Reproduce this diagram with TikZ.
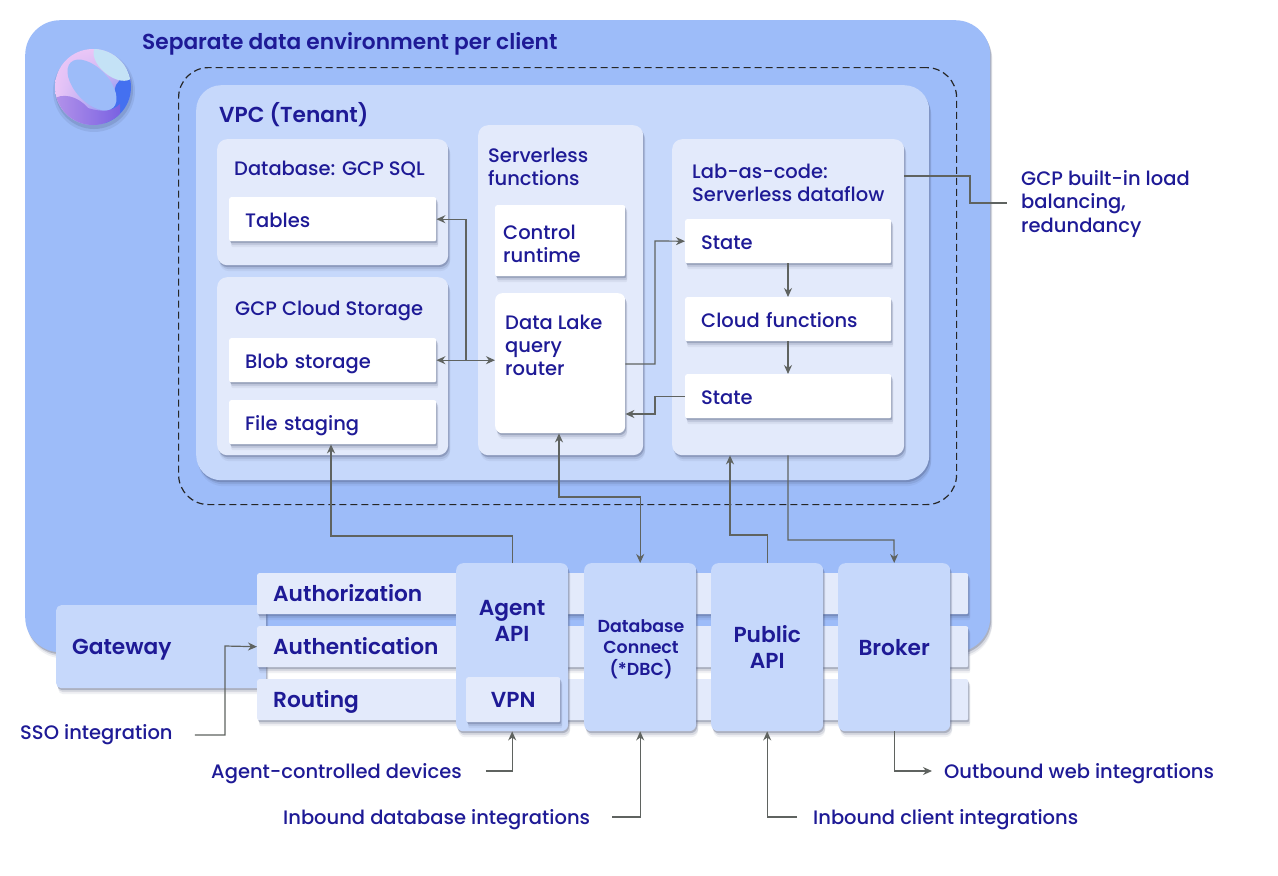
\documentclass[tikz,border=0pt]{standalone}
\usepackage{fontspec}
\setmainfont{Poppins}[BoldFont={Poppins SemiBold}]
\newfontfamily\medfont{Poppins Medium}
\usetikzlibrary{arrows.meta,shadows,shadings}
\definecolor{outerblue}{HTML}{9DBCF9}
\definecolor{midblue}{HTML}{C6D8FB}
\definecolor{paleblue}{HTML}{E3EAFB}
\definecolor{inkblue}{HTML}{1E1A96}
\definecolor{linegrey}{HTML}{5F6360}
\definecolor{shadegrey}{HTML}{4A5578}
\definecolor{logopink}{HTML}{EBC6F6}
\definecolor{logopale}{HTML}{C4E2F6}
\definecolor{logoblue}{HTML}{4470F0}
\definecolor{logoviolet}{HTML}{B594EA}
\definecolor{logoplum}{HTML}{7A62E2}
\tikzset{
  softshadow/.style={drop shadow={shadow xshift=1pt,shadow yshift=-2pt,opacity=.3,fill=shadegrey},
    drop shadow={shadow xshift=2pt,shadow yshift=-4pt,opacity=.15,fill=shadegrey},
    drop shadow={shadow xshift=2pt,shadow yshift=-6pt,opacity=.08,fill=shadegrey}},
  panel/.style={anchor=north west,rounded corners=#1,inner sep=0pt,softshadow},
  panel/.default=10pt,
  whitebox/.style={anchor=north west,fill=white,rounded corners=2pt,softshadow,inner xsep=16pt,inner ysep=0pt,
    align=left,text=inkblue,font=\medfont\fontsize{19.5}{23}\selectfont,execute at begin node={\vphantom{g}\rule{0pt}{21pt}}},
  rowbox/.style={anchor=north west,fill=paleblue,rounded corners=2pt,softshadow,inner xsep=16pt,inner ysep=0pt,
    align=left,text=inkblue,font=\bfseries\fontsize{21.7}{24}\selectfont,text width=679pt,minimum height=41pt,
    execute at begin node={\vphantom{g}\rule{0pt}{22pt}}},
  apibox/.style={anchor=north west,fill=midblue,rounded corners=7pt,softshadow,inner sep=0pt,
    align=center,text=inkblue,font=\bfseries\fontsize{21.7}{26}\selectfont,minimum width=112pt,minimum height=168pt},
  title/.style={anchor=north west,inner sep=0pt,align=left,text=inkblue,font=\medfont\fontsize{19.5}{23}\selectfont},
  bigtitle/.style={title,anchor=west,font=\bfseries\fontsize{21.7}{24}\selectfont},
  note/.style={anchor=west,inner sep=0pt,align=left,text=inkblue,font=\medfont\fontsize{19.5}{23.5}\selectfont},
  link/.style={draw=linegrey,line width=1.2pt,-{Stealth[length=9pt,width=8pt]}},
  backlink/.style={draw=linegrey,line width=1.2pt,{Stealth[length=9pt,width=8pt]}-},
  twoway/.style={link,{Stealth[length=9pt,width=8pt]}-{Stealth[length=9pt,width=8pt]}},
  plainlink/.style={draw=linegrey,line width=1.2pt}
}
\begin{document}
\begin{tikzpicture}[x=1pt,y=-1pt]
\useasboundingbox (0,0) rectangle (1278,876);
\fill[white] (0,0) rectangle (1278,876);

\node[panel=35pt,fill=outerblue,minimum width=965pt,minimum height=632pt] (outer) at (25,20) {};
\node[bigtitle] (outertitle) at (142,44) {Separate data environment per client};

\fill[shadegrey,opacity=.12] (94,91) circle (41);
\fill[shadegrey,opacity=.2] (94,90) circle (39);
\begin{scope}
\clip (93,87) circle (38);
\shade[upper left=logopink,upper right=logopink,lower left=logopink,lower right=logoblue] (55,49) rectangle (131,125);
\fill[logoblue] (131,65) -- (131,125) -- (104,125) -- (116,85) -- cycle;
\shade[left color=logoviolet,right color=logoplum] (52,100) .. controls (62,92) and (78,96) .. (88,108) .. controls (100,112) and (112,112) .. (120,104) -- (120,128) -- (52,128) -- cycle;
\fill[logopale,rotate around={-40:(114,62)}] (114,62) ellipse (24 and 14);
\fill[outerblue,rotate around={-47:(92,85)}] (92,85) ellipse (31 and 17);
\end{scope}

\node[anchor=north west,draw=black!85,dash pattern=on 7pt off 4pt,line width=1.2pt,rounded corners=30pt,inner sep=0pt,minimum width=778pt,minimum height=437pt] (tenant) at (178,67) {};
\node[panel=25pt,fill=midblue,minimum width=733pt,minimum height=395pt] (vpc) at (196,85) {};
\node[bigtitle] (vpctitle) at (219,115) {VPC (Tenant)};

\node[panel,fill=paleblue,minimum width=231pt,minimum height=126pt] (database) at (217,139) {};
\node[title,anchor=west] (databasetitle) at (234,170) {Database: GCP SQL};
\node[whitebox,text width=175pt,minimum height=44pt] (tables) at (229,197) {Tables};

\node[panel,fill=paleblue,minimum width=231pt,minimum height=178pt] (storage) at (217,277) {};
\node[title,anchor=west] (storagetitle) at (235,311) {GCP Cloud Storage};
\node[whitebox,text width=175pt,minimum height=44pt] (blob) at (229,338) {Blob storage};
\node[whitebox,text width=175pt,minimum height=44pt] (staging) at (229,400) {File staging};

\node[panel,fill=paleblue,minimum width=165pt,minimum height=330pt] (serverless) at (478,125) {};
\node[title] (serverlesstitle) at (488,148) {Serverless\\functions};
\node[whitebox,inner xsep=8pt,text width=114pt,minimum height=71pt] (control) at (495,205) {Control\\runtime};
\node[whitebox,minimum width=130pt,minimum height=140pt,rounded corners=7pt] (lake) at (495,293) {};
\node[title] (laketitle) at (505,315) {Data Lake\\query\\router};

\node[panel,fill=paleblue,minimum width=232pt,minimum height=316pt] (lab) at (672,139) {};
\node[title] (labtitle) at (692,164) {Lab-as-code:\\Serverless dataflow};
\node[whitebox,text width=174pt,minimum height=44pt] (statea) at (685,219) {State};
\node[whitebox,text width=174pt,minimum height=44pt] (cloudfn) at (685,297) {Cloud functions};
\node[whitebox,text width=174pt,minimum height=44pt] (stateb) at (685,374) {State};

\node[panel=5pt,fill=midblue,minimum width=210pt,minimum height=83pt] (gateway) at (56,605) {};
\node[bigtitle] (gatewaytitle) at (72,650) {Gateway};
\node[rowbox] (authz) at (257,573) {Authorization};
\node[rowbox] (authn) at (257,626) {Authentication};
\node[rowbox] (routing) at (257,679) {Routing};

\node[apibox] (agent) at (456,563) {};
\node[title,anchor=center,align=center,font=\bfseries\fontsize{21.7}{26}\selectfont] (agenttitle) at (512,621) {Agent\\API};
\node[anchor=north west,fill=paleblue,rounded corners=2pt,softshadow,inner sep=0pt,minimum width=94pt,minimum height=45pt,text=inkblue,font=\bfseries\fontsize{21.7}{24}\selectfont] (vpn) at (466,677) {VPN};
\node[apibox] (dbc) at (584,563) {};
\node[title,anchor=center,align=center,font=\bfseries\fontsize{17.4}{21.5}\selectfont] (dbctitle) at (641,649) {Database\\Connect\\(*DBC)};
\node[apibox] (public) at (711,563) {Public\\API};
\node[apibox] (broker) at (838,563) {Broker};

\node[note] (lbnote) at (1021,204) {GCP built-in load\\balancing,\\redundancy};
\node[note] (sso) at (20,735) {SSO integration};
\node[note] (devices) at (211,774) {Agent-controlled devices};
\node[note] (dbin) at (283,820) {Inbound database integrations};
\node[note] (clientin) at (813,820) {Inbound client integrations};
\node[note] (webout) at (944,774) {Outbound web integrations};
\coordinate (lbend) at (1007,203);
\coordinate (webend) at (932,771);

\draw[backlink] (tables.east) -| (466,360);
\draw[twoway] (blob.east) -- (lake.west|-blob.east);
\draw[link] (lake.east|-0,364) -| (655,241) -- (statea.west);
\draw[link] (stateb.west) -| (655,414) -- (lake.east|-0,414);
\draw[link] (statea.south-|788,0) -- (cloudfn.north-|788,0);
\draw[link] (cloudfn.south-|788,0) -- (stateb.north-|788,0);
\draw[link] (agent.north) |- (331,536) -- (staging.south-|331,0);
\draw[twoway] (dbc.north) |- (559,497) -- (lake.south-|559,0);
\draw[link] (public.north) |- (730,535) -- (lab.south-|730,0);
\draw[link] (lab.south-|788,0) |- (894,540) -- (broker.north);
\draw[plainlink] (lab.east|-0,176) -| (970,203) -- (lbend);
\draw[link] (sso.east)++(22,0) -| (225,646) -- (authn.west);
\draw[link] (devices.east)++(24,-3) -| (agent.south);
\draw[link] (dbin.east)++(22,-3) -| (dbc.south);
\draw[link] (clientin.west)++(-16,-3) -| (public.south);
\draw[link] (broker.south) |- (webend);
\end{tikzpicture}
\end{document}
